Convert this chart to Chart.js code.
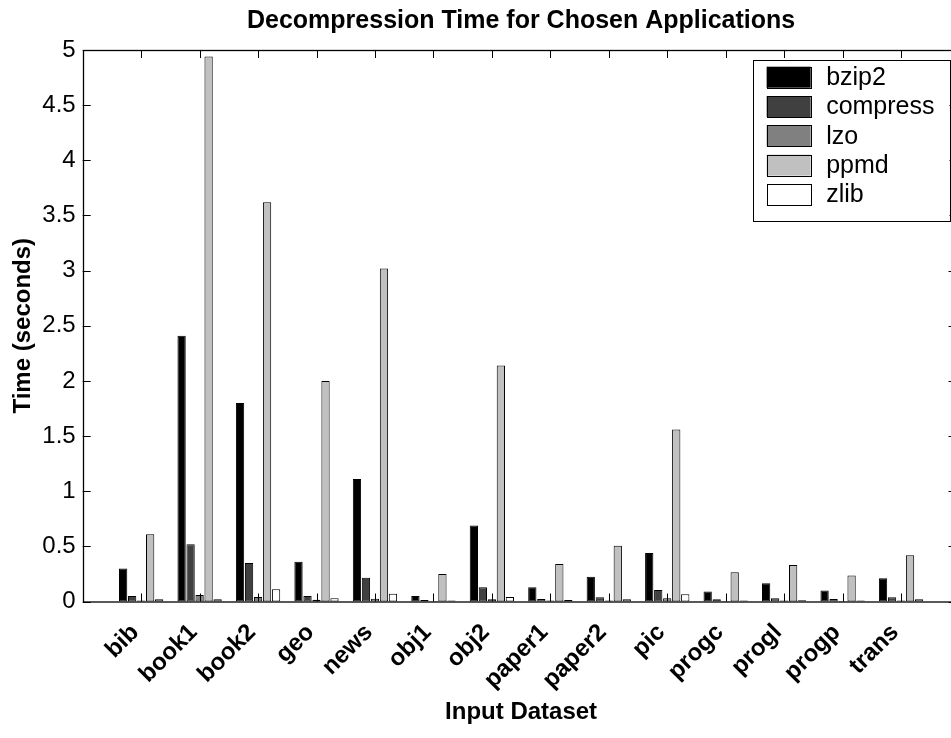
<!DOCTYPE html>
<html>
<head>
<meta charset="utf-8">
<script src="https://cdn.jsdelivr.net/npm/chart.js@4.4.1/dist/chart.umd.min.js"></script>
<style>
  html, body { margin: 0; padding: 0; background: #fff; overflow: hidden; }
  #wrap { width: 976px; height: 738px; }
</style>
</head>
<body>
<div id="wrap"><canvas id="c" width="976" height="738"></canvas></div>
<script>
// Input datasets and decompression times (seconds)
const categories = ['bib', 'book1', 'book2', 'geo', 'news', 'obj1', 'obj2',
                    'paper1', 'paper2', 'pic', 'progc', 'progl', 'progp', 'trans'];
const seriesNames = ['bzip2', 'compress', 'lzo', 'ppmd', 'zlib'];
const bzip2    = [0.30, 2.41, 1.80, 0.36, 1.11, 0.05, 0.69, 0.13, 0.225, 0.44, 0.09, 0.165, 0.10, 0.21];
const compress = [0.05, 0.52, 0.35, 0.05, 0.215, 0.013, 0.13, 0.022, 0.038, 0.105, 0.02, 0.03, 0.022, 0.038];
const lzo      = [0.01, 0.06, 0.04, 0.015, 0.025, 0.005, 0.02, 0.01, 0.01, 0.03, 0.005, 0.01, 0.005, 0.01];
const ppmd     = [0.61, 4.94, 3.62, 2.00, 3.02, 0.25, 2.14, 0.34, 0.505, 1.56, 0.265, 0.33, 0.235, 0.42];
const zlib     = [0.02, 0.02, 0.11, 0.03, 0.07, 0.01, 0.04, 0.013, 0.02, 0.065, 0.01, 0.012, 0.01, 0.02];
const yTicks   = [0, 0.5, 1, 1.5, 2, 2.5, 3, 3.5, 4, 4.5, 5];

const fills = ['#000000', '#404040', '#808080', '#c0c0c0', '#ffffff'];
const FONT = '"Liberation Sans", Arial, Helvetica, sans-serif';

// x axis runs from 0 to 15 with the datasets at 1..14
const labels = [''].concat(categories, ['']);
const pad = arr => [null].concat(arr, [null]);
const values = [bzip2, compress, lzo, ppmd, zlib];

const datasets = seriesNames.map((name, i) => ({
  label: name,
  data: pad(values[i]),
  backgroundColor: fills[i],
  borderColor: '#000000',
  borderWidth: 1,
  borderSkipped: false,
  categoryPercentage: 0.77,
  barPercentage: 0.92
}));

// Box around the axes with inward tick marks on all four sides
const axesBox = {
  id: 'axesBox',
  afterDatasetsDraw(chart) {
    const { ctx, chartArea: a, scales: { x, y } } = chart;
    const L = 8, LR = 11;
    ctx.save();
    ctx.strokeStyle = '#000';
    ctx.lineWidth = 1;
    ctx.beginPath();
    yTicks.forEach(v => {
      const py = Math.round(y.getPixelForValue(v)) + 0.5;
      ctx.moveTo(a.left, py); ctx.lineTo(a.left + L, py);
      ctx.moveTo(a.right, py); ctx.lineTo(a.right - LR, py);
    });
    categories.forEach((c, i) => {
      const px = Math.round(x.getPixelForValue(i + 1)) + 0.5;
      ctx.moveTo(px, a.bottom); ctx.lineTo(px, a.bottom - L);
      ctx.moveTo(px, a.top); ctx.lineTo(px, a.top + L);
    });
    ctx.stroke();
    ctx.lineWidth = 1.3;
    ctx.strokeRect(Math.round(a.left) + 0.5, Math.round(a.top) + 0.5,
                   a.right - a.left, a.bottom - a.top);
    ctx.restore();
  }
};

// Legend box in the upper right corner of the axes
const boxLegend = {
  id: 'boxLegend',
  afterDraw(chart) {
    const { ctx, chartArea: a } = chart;
    ctx.save();
    ctx.font = '25px ' + FONT;
    const tw = Math.max(...seriesNames.map(n => ctx.measureText(n).width));
    const sw = 44, sh = 21, rowH = 29.3;
    const padL = 14, gap = 15.5, padR = 15;
    const w = padL + sw + gap + tw + padR;
    const h = 161;
    const right = a.right - 10;
    const left = right - w;
    const top = a.top + 10;
    ctx.fillStyle = '#fff';
    ctx.fillRect(left, top, w, h);
    ctx.strokeStyle = '#000';
    ctx.lineWidth = 1;
    ctx.strokeRect(Math.round(left) + 0.5, Math.round(top) + 0.5, Math.round(w), h);
    seriesNames.forEach((n, i) => {
      const sy = top + 6.7 + i * rowH;
      ctx.fillStyle = fills[i];
      ctx.fillRect(left + padL, sy, sw, sh);
      ctx.strokeStyle = '#000';
      ctx.strokeRect(Math.round(left + padL) + 0.5, Math.round(sy) + 0.5, sw, sh);
      ctx.fillStyle = '#000';
      ctx.textBaseline = 'middle';
      ctx.textAlign = 'left';
      ctx.fillText(n, left + padL + sw + gap, sy + sh / 2 + 1);
    });
    ctx.restore();
  }
};

new Chart(document.getElementById('c'), {
  type: 'bar',
  data: { labels, datasets },
  plugins: [axesBox, boxLegend],
  options: {
    responsive: false,
    animation: false,
    layout: { padding: { left: 0, right: 16.5, top: 0, bottom: 0 } },
    plugins: {
      legend: { display: false },
      tooltip: { enabled: false },
      title: {
        display: true,
        fullSize: false,
        text: 'Decompression Time for Chosen Applications',
        color: '#000',
        font: { family: FONT, size: 25, weight: 'bold', lineHeight: 1.2 },
        padding: { top: 6, bottom: 14 }
      }
    },
    scales: {
      x: {
        offset: false,
        grid: { display: false, drawTicks: false },
        border: { display: false },
        ticks: {
          autoSkip: false,
          minRotation: 45,
          maxRotation: 45,
          padding: 17,
          labelOffset: -6,
          color: '#000',
          font: { family: FONT, size: 24, weight: 'bold' }
        },
        title: {
          display: true,
          text: 'Input Dataset',
          color: '#000',
          font: { family: FONT, size: 24, weight: 'bold', lineHeight: 1.2 },
          padding: { top: 0, bottom: 11.6 }
        },
        afterFit: s => {
          s.height = 136.5;
          // the rotated labels must not pull the plot edges inward
          s.paddingLeft = 0;
          s.paddingRight = 0;
        }
      },
      y: {
        min: 0,
        max: 5,
        grid: { display: false, drawTicks: false },
        border: { display: false },
        afterBuildTicks: s => { s.ticks = yTicks.map(v => ({ value: v })); },
        ticks: {
          padding: 7,
          color: '#000',
          font: { family: FONT, size: 24 },
          callback: v => String(v)
        },
        title: {
          display: true,
          text: 'Time (seconds)',
          color: '#000',
          font: { family: FONT, size: 24, weight: 'bold', lineHeight: 1.2 },
          padding: { top: 9, bottom: 0 }
        },
        afterFit: s => { s.width = 82.7; }
      }
    }
  }
});
</script>
</body>
</html>
